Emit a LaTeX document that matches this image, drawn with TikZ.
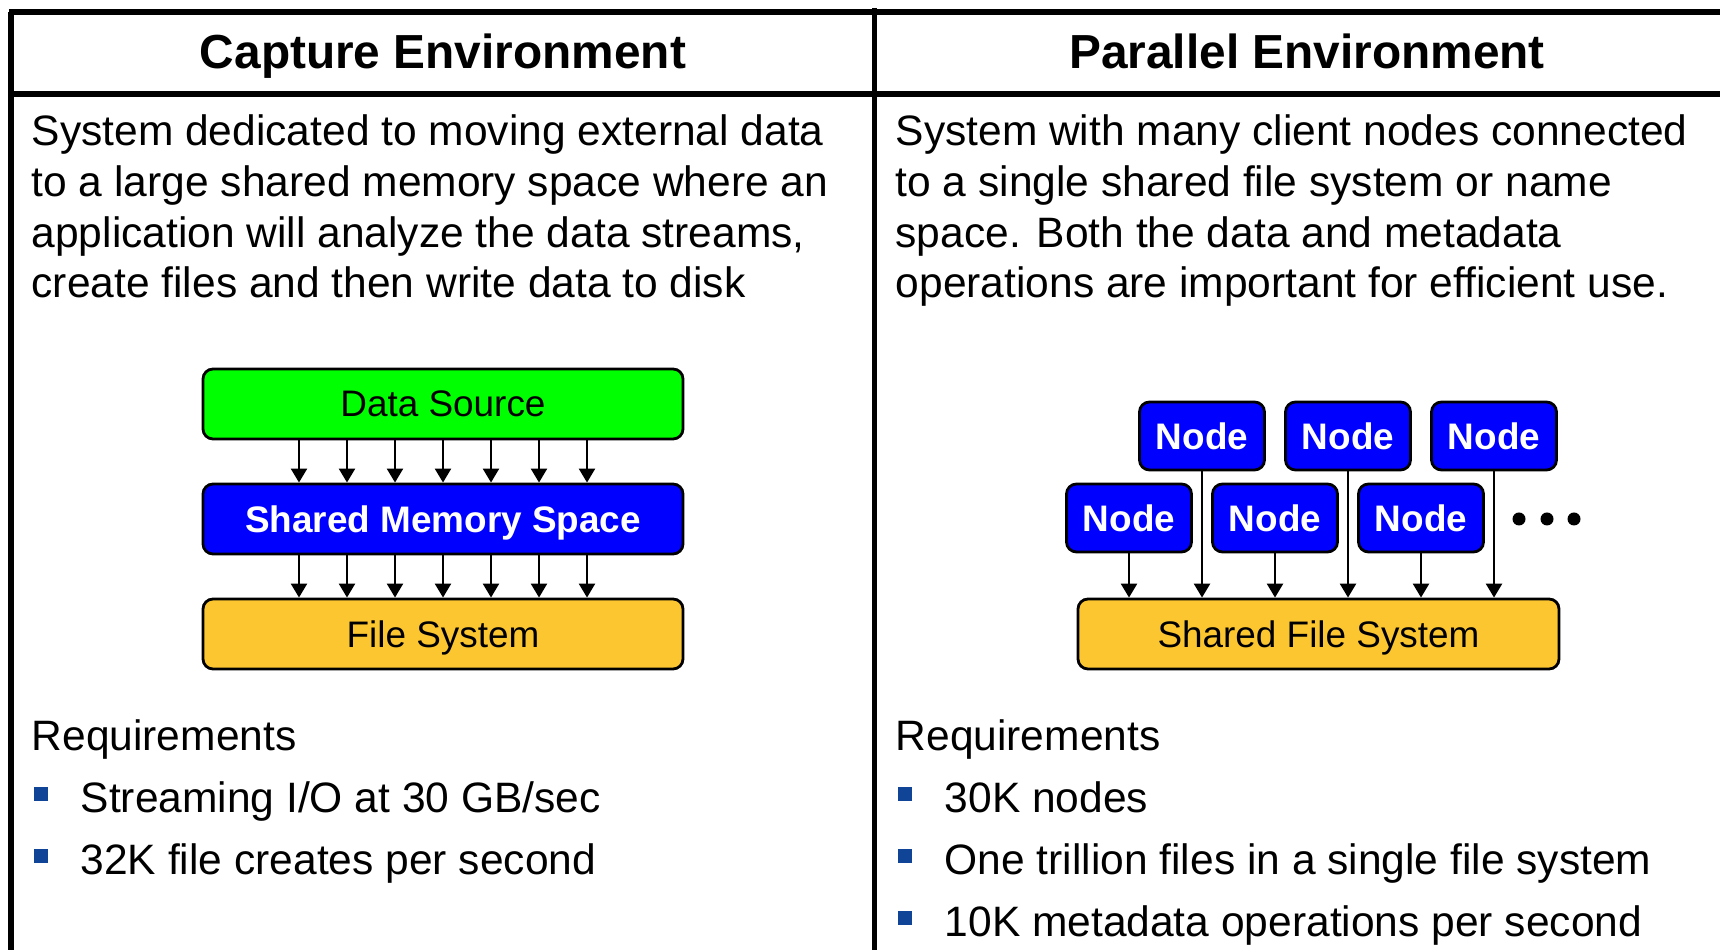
\documentclass[tikz,border=0pt]{standalone}
\usepackage{fontspec}
\setmainfont{Liberation Sans}
\usepackage{xcolor}
\usepackage{tikz}
\usetikzlibrary{positioning, arrows.meta, calc}

\definecolor{srcgreen}{RGB}{0,255,0}
\definecolor{memblue}{RGB}{0,0,255}
\definecolor{fsgold}{RGB}{252,198,48}
\definecolor{bulletblue}{RGB}{16,68,150}

\begin{document}
\begin{tikzpicture}[
    frame/.style={line width=1.45pt},
    heading/.style={font=\bfseries\fontsize{13.6}{16}\selectfont, anchor=base, inner sep=0pt},
    para/.style={font=\fontsize{12.1}{14.5}\selectfont, align=left, anchor=base west, inner sep=0pt},
    box/.style={draw, rounded corners=0.1cm, line width=0.8pt, minimum width=4.8cm, minimum height=0.7cm, inner sep=0pt, text depth=0pt, font=\fontsize{10.5}{12}\selectfont},
    nodebox/.style={box, fill=memblue, text=white, font=\bfseries\fontsize{10.5}{12}\selectfont, minimum width=1.25cm, minimum height=0.68cm},
    flow/.style={-{Triangle[length=0.14cm, width=0.16cm]}, line width=0.7pt},
    bullet/.style={fill=bulletblue, minimum size=0.14cm, inner sep=0pt},
    dot/.style={circle, fill=black, minimum size=0.13cm, inner sep=0pt}
]
    \useasboundingbox (0,0) rectangle (17.2,9.5);

    % Table frame
    \draw[frame] (0.11,-0.2) -- (0.11,9.38);
    \draw[frame] (8.745,-0.2) -- (8.745,9.42);
    \draw[frame] (0.09,9.38) -- (17.5,9.38);
    \draw[frame] (0.09,8.56) -- (17.5,8.56);

    % Capture Environment (para nodes sit on the baseline of their last line)
    \node[heading] (caphead) at (4.43,8.81) {Capture Environment};
    \node[para] (captext) at (0.31,6.52) {System dedicated to moving external data\\to a large shared memory space where an\\application will analyze the data streams,\\create files and then write data to disk};

    \node[box, fill=srcgreen] (src) at (4.43,5.46) {Data Source};
    \node[box, fill=memblue, text=white, font=\bfseries\fontsize{10.5}{12}\selectfont] (mem) at (4.43,4.31) {Shared Memory Space};
    \node[box, fill=fsgold] (fs) at (4.43,3.16) {File System};
    \foreach \dx in {-1.44,-0.96,-0.48,0,0.48,0.96,1.44} {
        \draw[flow] ([xshift=\dx cm]src.south) -- ([xshift=\dx cm]mem.north);
        \draw[flow] ([xshift=\dx cm]mem.south) -- ([xshift=\dx cm]fs.north);
    }

    \node[para] (capreq) at (0.31,1.99) {Requirements};
    \node[bullet] (capb1) at (0.405,1.56) {};
    \node[para] (capr1) at (0.80,1.37) {Streaming I/O at 30 GB/sec};
    \node[bullet] (capb2) at (0.405,0.94) {};
    \node[para] (capr2) at (0.80,0.75) {32K file creates per second};

    % Parallel Environment
    \node[heading] (parhead) at (13.07,8.81) {Parallel Environment};
    \node[para] (partext) at (8.95,6.52) {System with many client nodes connected\\to a single shared file system or name\\space. Both the data and metadata\\operations are important for efficient use.};

    \node[nodebox] (pnode1) at (12.02,5.14) {Node};
    \node[nodebox] (pnode2) at (13.48,5.14) {Node};
    \node[nodebox] (pnode3) at (14.94,5.14) {Node};
    \node[nodebox] (pnode4) at (11.29,4.32) {Node};
    \node[nodebox] (pnode5) at (12.75,4.32) {Node};
    \node[nodebox] (pnode6) at (14.21,4.32) {Node};
    \node[dot] (dot1) at (15.19,4.31) {};
    \node[dot] (dot2) at (15.47,4.31) {};
    \node[dot] (dot3) at (15.74,4.31) {};
    \node[box, fill=fsgold, minimum width=4.81cm] (sfs) at (13.185,3.16) {Shared File System};
    \foreach \n in {pnode1,pnode2,pnode3,pnode4,pnode5,pnode6}
        \draw[flow] (\n.south) -- (\n.south |- sfs.north);

    \node[para] (parreq) at (8.95,1.99) {Requirements};
    \node[bullet] (parb1) at (9.05,1.56) {};
    \node[para] (parr1) at (9.44,1.37) {30K nodes};
    \node[bullet] (parb2) at (9.05,0.94) {};
    \node[para] (parr2) at (9.44,0.75) {One trillion files in a single file system};
    \node[bullet] (parb3) at (9.05,0.32) {};
    \node[para] (parr3) at (9.44,0.13) {10K metadata operations per second};
\end{tikzpicture}
\end{document}
